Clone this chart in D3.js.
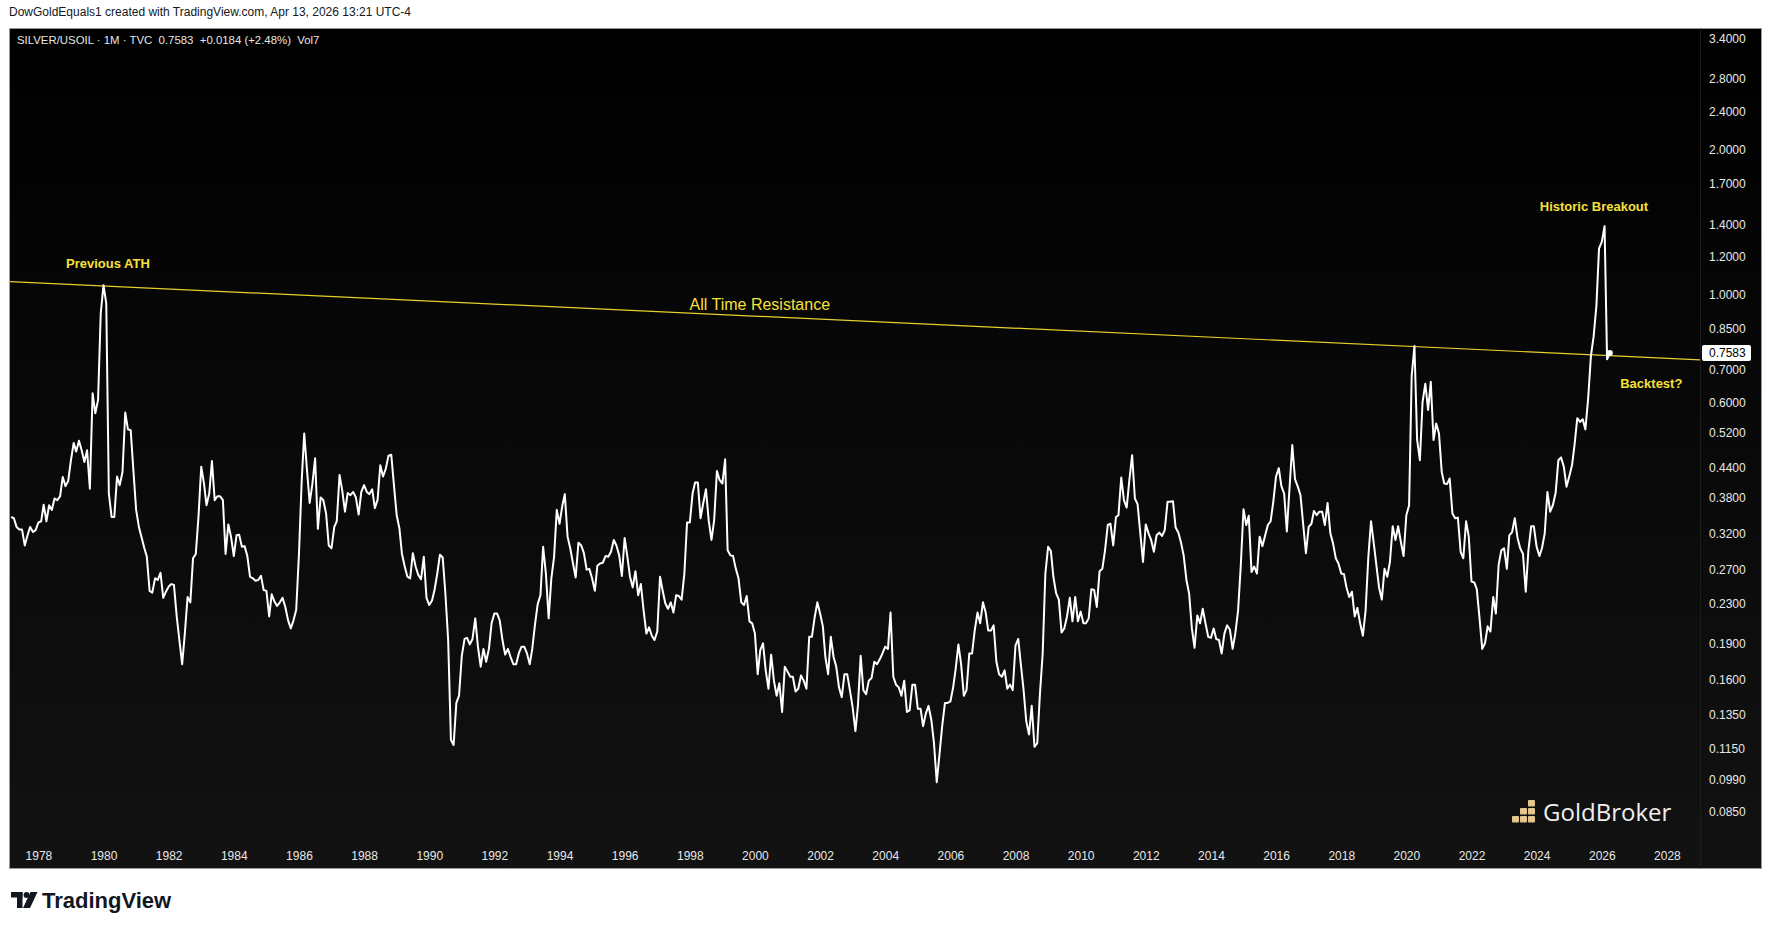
<!DOCTYPE html>
<html>
<head>
<meta charset="utf-8">
<script src="https://cdn.jsdelivr.net/npm/d3@7/dist/d3.min.js"></script>
<style>
  html, body { margin: 0; padding: 0; background: #ffffff; }
  svg { display: block; }
</style>
</head>
<body>
<svg id="chart" width="1773" height="930"></svg>
<script>
// ---------------- DATA (monthly SILVER/USOIL closes) ----------------
const seriesStart = "1977-03";
const s1977_1979 = [
  0.347, 0.345, 0.331, 0.327, 0.327, 0.303, 0.318, 0.331, 0.323, 0.326,
  0.338, 0.340, 0.368, 0.340, 0.367, 0.359, 0.379, 0.376, 0.383, 0.420, 0.402, 0.412,
  0.455, 0.494, 0.474, 0.499, 0.477, 0.451, 0.477, 0.397, 0.626, 0.569, 0.606, 0.916
];
const s1980s = [
  1.048, 0.961, 0.388, 0.347, 0.347, 0.421, 0.404, 0.430, 0.571, 0.527, 0.525, 0.434,
  0.359, 0.331, 0.316, 0.300, 0.287, 0.244, 0.242, 0.259, 0.257, 0.266, 0.236, 0.243,
  0.249, 0.252, 0.251, 0.216, 0.193, 0.172, 0.199, 0.237, 0.231, 0.285, 0.291, 0.347,
  0.441, 0.407, 0.367, 0.388, 0.453, 0.376, 0.383, 0.383, 0.376, 0.291, 0.335, 0.316,
  0.288, 0.318, 0.319, 0.301, 0.302, 0.288, 0.261, 0.259, 0.256, 0.257, 0.262, 0.245,
  0.244, 0.216, 0.240, 0.232, 0.227, 0.231, 0.236, 0.226, 0.212, 0.204, 0.212, 0.223,
  0.291, 0.414, 0.517, 0.434, 0.371, 0.407, 0.459, 0.328, 0.381, 0.376, 0.353, 0.303,
  0.299, 0.331, 0.340, 0.424, 0.394, 0.356, 0.389, 0.385, 0.391, 0.381, 0.351, 0.391,
  0.404, 0.391, 0.387, 0.396, 0.362, 0.377, 0.444, 0.421, 0.437, 0.465, 0.467, 0.404,
  0.350, 0.328, 0.291, 0.274, 0.261, 0.259, 0.292, 0.274, 0.263, 0.258, 0.287, 0.236
];
const s1990s = [
  0.228, 0.233, 0.245, 0.265, 0.290, 0.286, 0.241, 0.193, 0.120, 0.117, 0.143, 0.148,
  0.179, 0.194, 0.195, 0.189, 0.194, 0.214, 0.187, 0.170, 0.185, 0.174, 0.185, 0.209,
  0.219, 0.219, 0.212, 0.193, 0.180, 0.185, 0.178, 0.172, 0.172, 0.181, 0.187, 0.187,
  0.181, 0.172, 0.185, 0.208, 0.229, 0.239, 0.301, 0.265, 0.214, 0.259, 0.287, 0.359,
  0.336, 0.366, 0.387, 0.316, 0.299, 0.278, 0.260, 0.307, 0.303, 0.292, 0.270, 0.271,
  0.259, 0.244, 0.275, 0.278, 0.279, 0.288, 0.287, 0.294, 0.311, 0.303, 0.289, 0.262,
  0.314, 0.287, 0.261, 0.248, 0.268, 0.239, 0.252, 0.222, 0.199, 0.205, 0.197, 0.193,
  0.201, 0.261, 0.245, 0.230, 0.224, 0.231, 0.220, 0.239, 0.238, 0.234, 0.265, 0.338,
  0.338, 0.388, 0.409, 0.409, 0.345, 0.371, 0.396, 0.341, 0.311, 0.342, 0.432, 0.414,
  0.407, 0.457, 0.296, 0.289, 0.288, 0.271, 0.259, 0.231, 0.228, 0.238, 0.211, 0.209
];
const s2000s = [
  0.199, 0.164, 0.184, 0.190, 0.167, 0.153, 0.180, 0.159, 0.148, 0.157, 0.137, 0.170,
  0.166, 0.162, 0.162, 0.151, 0.153, 0.163, 0.159, 0.153, 0.196, 0.196, 0.215, 0.231,
  0.219, 0.206, 0.178, 0.164, 0.196, 0.178, 0.170, 0.154, 0.147, 0.164, 0.164, 0.152,
  0.140, 0.125, 0.141, 0.179, 0.152, 0.149, 0.159, 0.161, 0.174, 0.172, 0.176, 0.181,
  0.187, 0.185, 0.220, 0.162, 0.156, 0.154, 0.148, 0.159, 0.137, 0.138, 0.156, 0.156,
  0.139, 0.139, 0.128, 0.136, 0.141, 0.132, 0.118, 0.098, 0.112, 0.128, 0.143, 0.143,
  0.144, 0.154, 0.168, 0.189, 0.172, 0.148, 0.152, 0.181, 0.181, 0.202, 0.220, 0.209,
  0.231, 0.220, 0.202, 0.202, 0.207, 0.174, 0.164, 0.162, 0.167, 0.153, 0.156, 0.152,
  0.188, 0.194, 0.172, 0.152, 0.131, 0.123, 0.141, 0.116, 0.118, 0.149, 0.181, 0.265,
  0.301, 0.295, 0.261, 0.241, 0.234, 0.200, 0.204, 0.216, 0.236, 0.211, 0.237, 0.211
];
const s2010s = [
  0.221, 0.209, 0.209, 0.214, 0.246, 0.245, 0.226, 0.268, 0.271, 0.296, 0.334, 0.336,
  0.303, 0.347, 0.350, 0.419, 0.376, 0.363, 0.414, 0.466, 0.379, 0.369, 0.321, 0.280,
  0.335, 0.321, 0.311, 0.294, 0.318, 0.322, 0.317, 0.326, 0.373, 0.373, 0.374, 0.330,
  0.322, 0.306, 0.289, 0.257, 0.241, 0.204, 0.186, 0.217, 0.209, 0.224, 0.209, 0.196,
  0.195, 0.204, 0.194, 0.193, 0.181, 0.199, 0.207, 0.203, 0.185, 0.199, 0.222, 0.274,
  0.360, 0.334, 0.349, 0.267, 0.274, 0.265, 0.316, 0.302, 0.318, 0.334, 0.340, 0.373,
  0.421, 0.438, 0.402, 0.388, 0.324, 0.401, 0.489, 0.415, 0.401, 0.385, 0.334, 0.292,
  0.331, 0.336, 0.357, 0.350, 0.356, 0.356, 0.334, 0.371, 0.321, 0.306, 0.285, 0.278,
  0.265, 0.264, 0.248, 0.237, 0.243, 0.216, 0.225, 0.209, 0.197, 0.222, 0.287, 0.340,
  0.306, 0.274, 0.248, 0.234, 0.271, 0.261, 0.280, 0.332, 0.311, 0.332, 0.308, 0.288
];
const s2020s = [
  0.350, 0.367, 0.680, 0.784, 0.501, 0.455, 0.601, 0.655, 0.578, 0.661, 0.501, 0.542,
  0.517, 0.430, 0.407, 0.406, 0.417, 0.353, 0.345, 0.346, 0.294, 0.285, 0.340, 0.316,
  0.255, 0.254, 0.246, 0.214, 0.185, 0.190, 0.206, 0.201, 0.237, 0.219, 0.276, 0.296,
  0.299, 0.271, 0.318, 0.323, 0.345, 0.314, 0.299, 0.291, 0.243, 0.296, 0.332, 0.332,
  0.301, 0.288, 0.299, 0.321, 0.391, 0.356, 0.367, 0.389, 0.455, 0.461, 0.441, 0.401,
  0.421, 0.444, 0.489, 0.556, 0.546, 0.553, 0.527, 0.611, 0.748, 0.820, 0.947, 1.249,
  1.289, 1.389, 0.736, 0.7583
];

const priceTicks = [3.4, 2.8, 2.4, 2.0, 1.7, 1.4, 1.2, 1.0, 0.85, 0.70, 0.60, 0.52,
                    0.44, 0.38, 0.32, 0.27, 0.23, 0.19, 0.16, 0.135, 0.115, 0.099, 0.085];
const yearTicks = [1978, 1980, 1982, 1984, 1986, 1988, 1990, 1992, 1994, 1996, 1998, 2000,
                   2002, 2004, 2006, 2008, 2010, 2012, 2014, 2016, 2018, 2020, 2022, 2024,
                   2026, 2028];
const lastPrice = 0.7583;
const resistanceAnchors = [
  { date: "1980-01", value: 1.044 },
  { date: "2020-04", value: 0.782 }
];
const annotationTexts = ["Previous ATH", "All Time Resistance", "Historic Breakout", "Backtest?"];
const annotationDates = ["1980-02-20", "2000-02-25", "2025-10-05", "2027-07-10"];
const annotationValues = [1.165, 0.958, 1.528, 0.657];

const headerLine = "DowGoldEquals1 created with TradingView.com, Apr 13, 2026 13:21 UTC-4";
const legendLine = "SILVER/USOIL \u00b7 1M \u00b7 TVC  0.7583  +0.0184 (+2.48%)  Vol7";

// ---------------- LAYOUT ----------------
const frame = { l: 9.5, t: 28.5, r: 1761.5, b: 868.5 };
const pane = { l: 10, t: 29, r: 1700, b: 844 };
const FONT = "'Liberation Sans', Arial, sans-serif";

const svg = d3.select("#chart");
const defs = svg.append("defs");

const grad = defs.append("linearGradient").attr("id", "bg")
  .attr("x1", 0).attr("y1", 0).attr("x2", 0).attr("y2", 1);
grad.append("stop").attr("offset", "0%").attr("stop-color", "#000000");
grad.append("stop").attr("offset", "100%").attr("stop-color", "#121212");

defs.append("clipPath").attr("id", "paneClip")
  .append("rect").attr("x", pane.l).attr("y", pane.t)
  .attr("width", pane.r - pane.l).attr("height", pane.b - pane.t);

// header text above the chart
svg.append("text").attr("x", 9).attr("y", 16)
  .attr("font-family", FONT).attr("font-size", 12).attr("fill", "#131722")
  .text(headerLine);

// chart background + frame
svg.append("rect").attr("x", frame.l).attr("y", frame.t)
  .attr("width", frame.r - frame.l).attr("height", frame.b - frame.t)
  .attr("fill", "url(#bg)").attr("stroke", "#9a9a9a").attr("stroke-width", 1);

// scales
const parseMonth = d3.utcParse("%Y-%m");
const parseDay = d3.utcParse("%Y-%m-%d");
const x = d3.scaleUtc()
  .domain([new Date(Date.UTC(1978, 0, 1)), new Date(Date.UTC(2028, 0, 1))])
  .range([38.4, 1666.9]);
const y = d3.scaleLog().domain([0.085, 3.4]).range([812, 38.4]);

// build series
const allValues = [].concat(s1977_1979, s1980s, s1990s, s2000s, s2010s, s2020s);
const start = parseMonth(seriesStart);
const series = allValues.map((v, i) => ({ date: d3.utcMonth.offset(start, i), value: v }));

const plot = svg.append("g").attr("clip-path", "url(#paneClip)");

// resistance trend line (extended through the pane)
const a0 = resistanceAnchors[0], a1 = resistanceAnchors[1];
const p0 = [x(parseMonth(a0.date)), y(a0.value)];
const p1 = [x(parseMonth(a1.date)), y(a1.value)];
const slope = (p1[1] - p0[1]) / (p1[0] - p0[0]);
plot.append("line")
  .attr("x1", pane.l).attr("y1", p0[1] + slope * (pane.l - p0[0]))
  .attr("x2", pane.r).attr("y2", p0[1] + slope * (pane.r - p0[0]))
  .attr("stroke", "#e8cf2c").attr("stroke-width", 1.2);

// price line
const line = d3.line().x(d => x(d.date)).y(d => y(d.value));
plot.append("path").datum(series)
  .attr("d", line).attr("fill", "none")
  .attr("stroke", "#ffffff").attr("stroke-width", 2).attr("stroke-linejoin", "round");

const last = series[series.length - 1];
plot.append("circle").attr("cx", x(last.date)).attr("cy", y(last.value)).attr("r", 3)
  .attr("fill", "#ffffff");

// annotations
annotationTexts.forEach((t, i) => {
  const isBold = t !== "All Time Resistance";
  svg.append("text")
    .attr("x", x(parseDay(annotationDates[i])))
    .attr("y", y(annotationValues[i]))
    .attr("text-anchor", "middle").attr("dominant-baseline", "central")
    .attr("font-family", FONT)
    .attr("font-size", isBold ? 13 : 16)
    .attr("font-weight", isBold ? "bold" : "normal")
    .attr("fill", "#f6e03a")
    .text(t);
});

// legend line
svg.append("text").attr("x", 17).attr("y", 44)
  .attr("font-family", FONT).attr("font-size", 11.4).attr("fill", "#e6e6e6")
  .attr("xml:space", "preserve").style("white-space", "pre")
  .text(legendLine);

// price axis separator
svg.append("line").attr("x1", pane.r + 0.5).attr("x2", pane.r + 0.5)
  .attr("y1", frame.t).attr("y2", frame.b).attr("stroke", "#1c1c1c");

// price axis
const yAxis = d3.axisRight(y).tickValues(priceTicks)
  .tickFormat(d3.format(".4f")).tickSize(0).tickPadding(9);
const gy = svg.append("g").attr("transform", `translate(${pane.r},0)`).call(yAxis);
gy.select(".domain").remove();
gy.selectAll("text").attr("font-family", FONT).attr("font-size", 12).attr("fill", "#e8e8e8");

// last price label
const ly = y(lastPrice);
svg.append("rect").attr("x", pane.r + 2).attr("y", ly - 8).attr("width", 49).attr("height", 16)
  .attr("rx", 2).attr("fill", "#ffffff");
svg.append("text").attr("x", pane.r + 9).attr("y", ly).attr("dominant-baseline", "central")
  .attr("font-family", FONT).attr("font-size", 12).attr("fill", "#000000")
  .text(d3.format(".4f")(lastPrice));

// time axis
const xAxis = d3.axisBottom(x)
  .tickValues(yearTicks.map(yr => new Date(Date.UTC(yr, 0, 1))))
  .tickFormat(d3.utcFormat("%Y")).tickSize(0);
const gx = svg.append("g").attr("transform", `translate(0,856)`).call(xAxis);
gx.select(".domain").remove();
gx.selectAll("text").attr("y", 0).attr("dy", "0.35em")
  .attr("font-family", FONT).attr("font-size", 12).attr("fill", "#e8e8e8");

// GoldBroker watermark
const gb = svg.append("g").attr("transform", "translate(1512,800)");
[[0,16,7],[8,16,7],[16,16,7],[8,8,7],[16,8,7],[16,0,7]].forEach(b => {
  gb.append("rect").attr("x", b[0]).attr("y", b[1]).attr("width", b[2]).attr("height", 6.5)
    .attr("rx", 1).attr("fill", "#e5c68c");
});
gb.append("text").attr("x", 31).attr("y", 21)
  .attr("font-family", "'Open Sans', sans-serif").attr("font-size", 24)
  .attr("fill", "#efefef").text("GoldBroker");

// TradingView logo at the bottom
const tv = svg.append("g").attr("transform", "translate(11,892)");
tv.append("rect").attr("x", 0).attr("y", 0).attr("width", 11.5).attr("height", 5.5).attr("fill", "#131722");
tv.append("rect").attr("x", 6).attr("y", 0).attr("width", 5.5).attr("height", 16).attr("fill", "#131722");
tv.append("circle").attr("cx", 15.5).attr("cy", 3).attr("r", 2.9).attr("fill", "#131722");
tv.append("path").attr("d", "M19.5,0 L26.5,0 L19,16 L12,16 Z").attr("fill", "#131722");
tv.append("text").attr("x", 31).attr("y", 16)
  .attr("font-family", FONT).attr("font-size", 22).attr("font-weight", "bold")
  .attr("fill", "#131722").text("TradingView");
</script>
</body>
</html>
